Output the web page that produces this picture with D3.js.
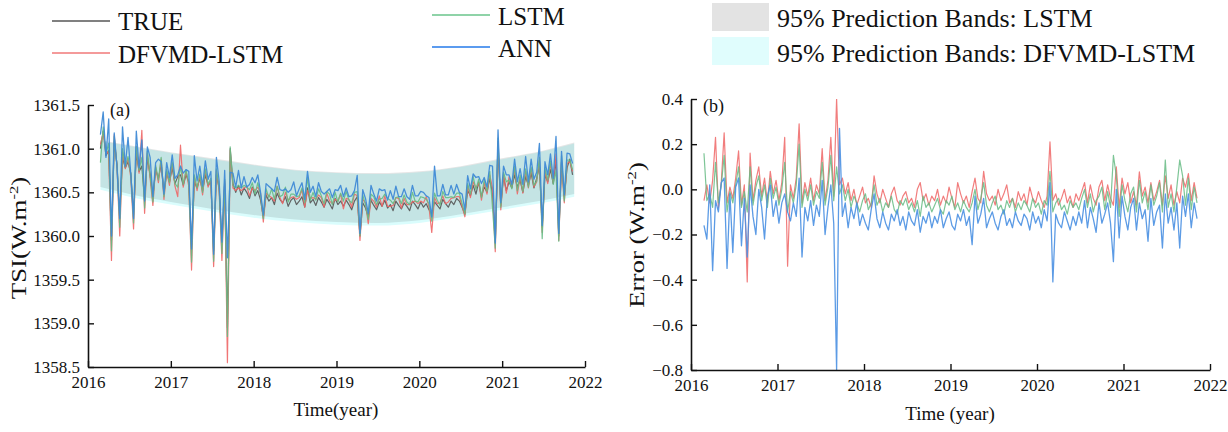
<!DOCTYPE html>
<html>
<head>
<meta charset="utf-8">
<script src="https://cdn.jsdelivr.net/npm/d3@7"></script>
<style>
body { margin: 0; background: #fff; }
svg text { font-family: "Liberation Serif", "Times New Roman", serif; fill: #111; }
</style>
</head>
<body>
<div id="chart"></div>
<script>
// Time index: one sample every 1/30 year, starting early 2016
var startYear = 2016.15;
var stepYear = 1 / 30;

var trueTSI = [
  1361.00, 1361.20, 1360.92, 1360.98, 1359.95, 1361.08, 1360.82, 1360.25, 1360.90, 1360.78,
  1360.85, 1360.72, 1360.25, 1360.95, 1360.74, 1360.80, 1360.42, 1360.90, 1360.70, 1360.45,
  1360.76, 1360.66, 1360.82, 1360.50, 1360.72, 1360.62, 1360.78, 1360.60, 1360.68, 1360.70,
  1360.58, 1360.70, 1360.62, 1359.90, 1360.62, 1360.55, 1360.66, 1360.52, 1360.70, 1360.58,
  1360.62, 1359.83, 1360.70, 1360.55, 1359.95, 1360.60, 1358.95, 1361.00, 1360.60, 1360.50,
  1360.58, 1360.47, 1360.55, 1360.50, 1360.43, 1360.56, 1360.46, 1360.52, 1360.41, 1360.22,
  1360.47, 1360.40, 1360.44, 1360.36, 1360.49, 1360.42, 1360.38, 1360.45, 1360.34, 1360.41,
  1360.44, 1360.36, 1360.40, 1360.45, 1360.33, 1360.55, 1360.38, 1360.42, 1360.35, 1360.44,
  1360.39, 1360.33, 1360.42, 1360.37, 1360.31, 1360.43, 1360.36, 1360.40, 1360.34, 1360.41,
  1360.36, 1360.30, 1360.40, 1360.45, 1360.00, 1360.38, 1360.32, 1360.22, 1360.41, 1360.35,
  1360.30, 1360.39, 1360.34, 1360.41, 1360.32, 1360.36, 1360.29, 1360.40, 1360.35, 1360.31,
  1360.38, 1360.34, 1360.29, 1360.40, 1360.36, 1360.31, 1360.39, 1360.33, 1360.37, 1360.30,
  1360.25, 1360.39, 1360.35, 1360.31, 1360.42, 1360.37, 1360.33, 1360.40, 1360.36, 1360.43,
  1360.40, 1360.33, 1360.25, 1360.52, 1360.46, 1360.58, 1360.48, 1360.62, 1360.45, 1360.56,
  1360.50, 1360.66, 1360.48, 1359.92, 1361.00, 1360.35, 1360.68, 1360.52, 1360.62, 1360.55,
  1360.70, 1360.56, 1360.64, 1360.50, 1360.68, 1360.58, 1360.72, 1360.55, 1360.66, 1360.80,
  1360.10, 1360.70, 1360.62, 1360.76, 1360.60, 1360.88, 1360.00, 1360.85, 1360.45, 1360.78,
  1360.88, 1360.70
];

// Errors (TRUE - prediction)
var errDFVMD = [
  -0.05, 0.02, -0.06, 0.04, 0.23, -0.08, 0.03, 0.25, -0.06, 0.01,
  -0.04, 0.05, 0.17, -0.07, 0.02, -0.41, 0.16, -0.05, 0.04, 0.10,
  -0.03, 0.05, -0.06, 0.08, -0.02, 0.04, -0.05, 0.03, 0.23, -0.34,
  0.02, -0.04, 0.05, 0.29, -0.06, 0.03, -0.03, 0.05, -0.05, 0.02,
  -0.02, 0.18, -0.05, 0.04, 0.23, -0.03, 0.40, 0.02, 0.05, -0.02,
  0.03, -0.05, 0.00, -0.07, -0.03, 0.01, -0.06, -0.04, -0.08, 0.06,
  -0.02, -0.06, 0.00, -0.04, -0.08, -0.02, 0.01, -0.05, -0.07, -0.03,
  -0.01, -0.06, -0.04, -0.08, 0.00, 0.03, -0.05, -0.02, -0.07, -0.03,
  -0.05, 0.00, -0.07, -0.03, -0.06, 0.01, -0.04, -0.08, 0.03, -0.02,
  -0.06, -0.03, -0.08, -0.01, 0.05, -0.04, -0.06, 0.08, -0.02, -0.05,
  -0.03, -0.07, 0.00, -0.05, -0.02, 0.02, -0.06, -0.04, -0.08, -0.01,
  -0.05, -0.02, -0.07, 0.01, -0.04, -0.06, -0.01, -0.05, -0.08, -0.03,
  0.21, -0.05, -0.02, -0.07, -0.04, 0.00, -0.06, -0.03, -0.08, -0.02,
  -0.05, -0.01, 0.03, -0.06, 0.02, -0.04, -0.07, 0.01, 0.04, -0.05,
  0.02, -0.04, -0.07, 0.10, -0.08, 0.05, -0.02, 0.03, -0.06, -0.01,
  -0.07, 0.077, -0.03, 0.01, -0.06, 0.03, -0.05, -0.01, 0.04, -0.07,
  0.06, -0.04, 0.02, -0.07, -0.01, -0.06, 0.05, 0.01, 0.07, -0.05,
  0.03, -0.04
];

var errLSTM = [
  0.16, -0.05, -0.02, -0.08, 0.12, -0.06, 0.02, 0.15, -0.10, -0.01,
  -0.06, 0.02, 0.10, -0.08, -0.01, -0.10, 0.10, -0.07, 0.01, 0.06,
  -0.05, 0.02, -0.08, 0.05, -0.04, 0.01, -0.07, 0.00, 0.12, -0.10,
  -0.01, -0.06, 0.02, 0.20, -0.08, 0.00, -0.05, 0.02, -0.07, -0.01,
  -0.04, 0.12, -0.07, 0.01, 0.15, -0.05, 0.10, -0.02, 0.02, -0.05,
  0.00, -0.08, -0.03, -0.06, -0.10, -0.05, -0.02, -0.09, -0.06, 0.02,
  -0.07, -0.04, -0.10, -0.06, -0.08, -0.03, -0.09, -0.11, -0.05, -0.07,
  -0.04, -0.09, -0.06, -0.10, -0.05, -0.12, -0.03, -0.08, -0.06, -0.10,
  -0.07, -0.04, -0.09, -0.11, -0.05, -0.07, -0.03, -0.09, -0.06, -0.10,
  -0.05, -0.08, -0.10, -0.06, 0.00, -0.09, -0.04, 0.03, -0.07, -0.10,
  -0.06, -0.03, -0.09, -0.07, -0.11, -0.05, -0.08, -0.04, -0.10, -0.06,
  -0.09, -0.05, -0.07, -0.10, -0.04, -0.08, -0.06, -0.11, -0.05, -0.07,
  0.08, -0.10, -0.06, -0.04, -0.09, -0.07, -0.11, -0.05, -0.08, -0.06,
  -0.09, -0.04, 0.00, -0.08, -0.02, -0.10, -0.05, -0.03, 0.01, -0.09,
  -0.01, -0.08, 0.15, 0.06, -0.12, 0.02, -0.05, -0.10, -0.02, 0.01,
  -0.10, 0.04, -0.06, -0.01, -0.09, 0.02, -0.07, -0.03, 0.03, -0.10,
  0.13, -0.08, -0.02, -0.10, 0.01, 0.13, 0.06, -0.07, 0.05, -0.09,
  0.01, -0.06
];

var errANN = [
  -0.16, -0.22, 0.02, -0.36, -0.05, -0.10, 0.03, 0.05, -0.35, -0.02,
  -0.28, 0.01, 0.05, -0.25, -0.04, -0.30, 0.02, -0.12, -0.20, 0.00,
  -0.08, -0.22, -0.03, 0.02, -0.12, -0.05, -0.15, -0.06, -0.02, -0.10,
  -0.14, -0.06, -0.12, 0.05, -0.30, -0.08, -0.14, -0.05, -0.16, -0.07,
  -0.12, 0.04, -0.20, -0.08, 0.02, -0.15, -0.80, 0.27, -0.12, -0.06,
  -0.17, -0.08, -0.13, -0.06, -0.16, -0.11, -0.15, -0.18, -0.09, -0.02,
  -0.13, -0.17, -0.10, -0.15, -0.18, -0.11, -0.14, -0.09, -0.16, -0.12,
  -0.18, -0.10, -0.14, -0.16, -0.09, -0.19, -0.12, -0.15, -0.10, -0.17,
  -0.12, -0.15, -0.09, -0.17, -0.13, -0.10, -0.16, -0.18, -0.11, -0.14,
  -0.09, -0.16, -0.12, -0.245, -0.03, -0.15, -0.11, -0.04, -0.17, -0.13,
  -0.10, -0.15, -0.18, -0.12, -0.09, -0.16, -0.13, -0.17, -0.10, -0.14,
  -0.16, -0.11, -0.13, -0.18, -0.10, -0.15, -0.12, -0.17, -0.09, -0.14,
  0.03, -0.41, -0.11, -0.15, -0.17, -0.10, -0.14, -0.18, -0.12, -0.16,
  -0.10, -0.15, -0.05, -0.17, -0.08, -0.13, -0.19, -0.06, -0.15, -0.11,
  -0.06, -0.15, -0.32, 0.00, -0.215, -0.03, -0.12, -0.18, -0.08, -0.04,
  -0.18, -0.06, -0.13, -0.09, -0.23, -0.04, -0.16, -0.10, -0.07, -0.26,
  -0.02, -0.15, -0.08, -0.18, -0.06, -0.26, -0.03, -0.12, -0.02, -0.17,
  -0.06, -0.13
];

// 95% prediction bands (panel a)
var bandYears  = [2016.15, 2016.5, 2017, 2017.5, 2018, 2018.5, 2019, 2019.5, 2020, 2020.5, 2021, 2021.5, 2021.87];
var lstmUpper  = [1361.10, 1361.04, 1360.96, 1360.89, 1360.82, 1360.76, 1360.73, 1360.72, 1360.74, 1360.80, 1360.89, 1360.98, 1361.07];
var lstmLower  = [1360.56, 1360.48, 1360.39, 1360.31, 1360.24, 1360.19, 1360.16, 1360.15, 1360.18, 1360.25, 1360.33, 1360.41, 1360.48];
var dfvmdUpper = [1361.09, 1361.03, 1360.95, 1360.88, 1360.81, 1360.75, 1360.72, 1360.71, 1360.73, 1360.79, 1360.88, 1360.97, 1361.06];
var dfvmdLower = [1360.53, 1360.45, 1360.36, 1360.28, 1360.21, 1360.16, 1360.13, 1360.12, 1360.15, 1360.22, 1360.30, 1360.38, 1360.45];

// Tick labels
var yearTicks = [2016, 2017, 2018, 2019, 2020, 2021, 2022];
var yearMinor = [2016.5, 2017.5, 2018.5, 2019.5, 2020.5, 2021.5];
var tsiTicks = [1358.5, 1359.0, 1359.5, 1360.0, 1360.5, 1361.0, 1361.5];
var tsiMinor = [1358.75, 1359.25, 1359.75, 1360.25, 1360.75, 1361.25];
var errTicks = [-0.8, -0.6, -0.4, -0.2, 0.0, 0.2, 0.4];
var errMinor = [-0.7, -0.5, -0.3, -0.1, 0.1, 0.3];

// colours
var cTrue = "#555555", cDFVMD = "#ee6666", cLSTM = "#66bb84", cANN = "#3f8ad6";
var serif = "'Liberation Serif', 'Times New Roman', serif";

var width = 1228;
var height = 432;

var svg = d3.select("#chart")
    .append("svg")
    .attr("width", width)
    .attr("height", height);

var years = trueTSI.map(function(d, i) { return startYear + i * stepYear; });
var predDFVMD = trueTSI.map(function(d, i) { return d - errDFVMD[i]; });
var predLSTM = trueTSI.map(function(d, i) { return d - errLSTM[i]; });
var predANN = trueTSI.map(function(d, i) { return d - errANN[i]; });

// #################### helpers ####################
function drawSeries(g, x, y, values, color, w, op) {
    var line = d3.line()
        .x(function(d, i) { return x(years[i]); })
        .y(function(d) { return y(d); });
    g.append("path")
        .datum(values)
        .attr("d", line)
        .attr("fill", "none")
        .attr("stroke", color)
        .attr("stroke-width", w)
        .attr("stroke-linejoin", "round")
        .attr("opacity", op);
}

function drawAxes(x, y, yMajor, yMinor, fmt) {
    var y0 = y.range()[0];
    var x0 = x.range()[0];

    var gx = svg.append("g").attr("transform", "translate(0," + y0 + ")");
    gx.call(d3.axisBottom(x).tickValues(yearMinor).tickSize(-3).tickFormat(""));
    gx.call(d3.axisBottom(x).tickValues(yearTicks).tickSize(-6).tickSizeOuter(0)
        .tickPadding(9).tickFormat(d3.format("d")));

    var gy = svg.append("g").attr("transform", "translate(" + x0 + ",0)");
    gy.call(d3.axisLeft(y).tickValues(yMinor).tickSize(-3).tickFormat(""));
    gy.call(d3.axisLeft(y).tickValues(yMajor).tickSize(-6).tickSizeOuter(0)
        .tickPadding(8).tickFormat(fmt));

    [gx, gy].forEach(function(g) {
        g.attr("font-family", serif);
        g.selectAll(".domain").attr("stroke", "#111").attr("stroke-width", 1.6);
        g.selectAll(".tick line").attr("stroke", "#111").attr("stroke-width", 1.4);
        g.selectAll(".tick text").attr("font-size", 17).attr("font-family", serif).attr("fill", "#111");
    });
}

// #################### panel (a) ####################
var xA = d3.scaleLinear().domain([2016, 2022]).range([88, 585]);
var yA = d3.scaleLinear().domain([1358.5, 1361.5]).range([367, 105]);

svg.append("clipPath").attr("id", "clipA").append("rect")
    .attr("x", 88).attr("y", 105).attr("width", 497).attr("height", 262);

var gA = svg.append("g").attr("clip-path", "url(#clipA)");

function band(lo, hi) {
    return d3.area()
        .x(function(d) { return xA(d); })
        .y0(function(d, i) { return yA(lo[i]); })
        .y1(function(d, i) { return yA(hi[i]); })
        .curve(d3.curveMonotoneX);
}
gA.append("path").datum(bandYears).attr("d", band(dfvmdLower, dfvmdUpper))
    .attr("fill", "#dafdfd");
gA.append("path").datum(bandYears).attr("d", band(lstmLower, lstmUpper))
    .attr("fill", "#e6e6e6").style("mix-blend-mode", "multiply");

drawSeries(gA, xA, yA, trueTSI, cTrue, 1.2, 0.9);
drawSeries(gA, xA, yA, predDFVMD, cDFVMD, 1.2, 0.9);
drawSeries(gA, xA, yA, predLSTM, cLSTM, 1.2, 0.9);
drawSeries(gA, xA, yA, predANN, cANN, 1.3, 0.95);

drawAxes(xA, yA, tsiTicks, tsiMinor, d3.format(".1f"));

svg.append("text").attr("x", 110).attr("y", 116).attr("font-size", 18).text("(a)");

svg.append("text").attr("x", 336).attr("y", 416).attr("text-anchor", "middle")
    .attr("font-size", 19).text("Time(year)");

var tA = svg.append("text").attr("transform", "translate(26,238) rotate(-90) scale(1.28,1)")
    .attr("text-anchor", "middle").attr("font-size", 21);
tA.append("tspan").text("TSI(W.m");
tA.append("tspan").attr("font-size", 13).attr("dy", -8).text("-2");
tA.append("tspan").attr("dy", 8).text(")");

// #################### panel (b) ####################
var xB = d3.scaleLinear().domain([2016, 2022]).range([691, 1210]);
var yB = d3.scaleLinear().domain([-0.8, 0.4]).range([370, 99]);

svg.append("clipPath").attr("id", "clipB").append("rect")
    .attr("x", 691).attr("y", 99).attr("width", 519).attr("height", 271);

var gB = svg.append("g").attr("clip-path", "url(#clipB)");

drawSeries(gB, xB, yB, errDFVMD, cDFVMD, 1.2, 0.85);
drawSeries(gB, xB, yB, errLSTM, cLSTM, 1.2, 0.85);
drawSeries(gB, xB, yB, errANN, "#4a90e2", 1.3, 0.9);

drawAxes(xB, yB, errTicks, errMinor, d3.format(".1f"));

svg.append("text").attr("x", 703).attr("y", 112).attr("font-size", 18).text("(b)");

svg.append("text").attr("x", 950).attr("y", 420).attr("text-anchor", "middle")
    .attr("font-size", 19).text("Time (year)");

var tB = svg.append("text").attr("transform", "translate(644,235) rotate(-90) scale(1.28,1)")
    .attr("text-anchor", "middle").attr("font-size", 21);
tB.append("tspan").text("Error (W.m");
tB.append("tspan").attr("font-size", 13).attr("dy", -8).text("-2");
tB.append("tspan").attr("dy", 8).text(")");

// #################### legend ####################
var legendLines = [
    { name: "TRUE", color: "#808080", x: 52, y: 21, ty: 30 },
    { name: "DFVMD-LSTM", color: "#f49a9a", x: 52, y: 53, ty: 63 },
    { name: "LSTM", color: "#8fd3a8", x: 432, y: 15, ty: 25 },
    { name: "ANN", color: "#5b9bef", x: 432, y: 47, ty: 57 }
];
legendLines.forEach(function(d) {
    svg.append("line").attr("x1", d.x).attr("x2", d.x + 58)
        .attr("y1", d.y).attr("y2", d.y)
        .attr("stroke", d.color).attr("stroke-width", 1.8);
    svg.append("text").attr("x", d.x + 66).attr("y", d.ty)
        .attr("font-size", 25).text(d.name);
});

var legendBands = [
    { name: "95% Prediction Bands: LSTM", color: "#e3e3e3", y: 3, ty: 27 },
    { name: "95% Prediction Bands: DFVMD-LSTM", color: "#e0fdfd", y: 37, ty: 62 }
];
legendBands.forEach(function(d) {
    svg.append("rect").attr("x", 712).attr("y", d.y).attr("width", 57).attr("height", 28)
        .attr("fill", d.color);
    svg.append("text").attr("x", 777).attr("y", d.ty)
        .attr("font-size", 26).text(d.name);
});
</script>
</body>
</html>
